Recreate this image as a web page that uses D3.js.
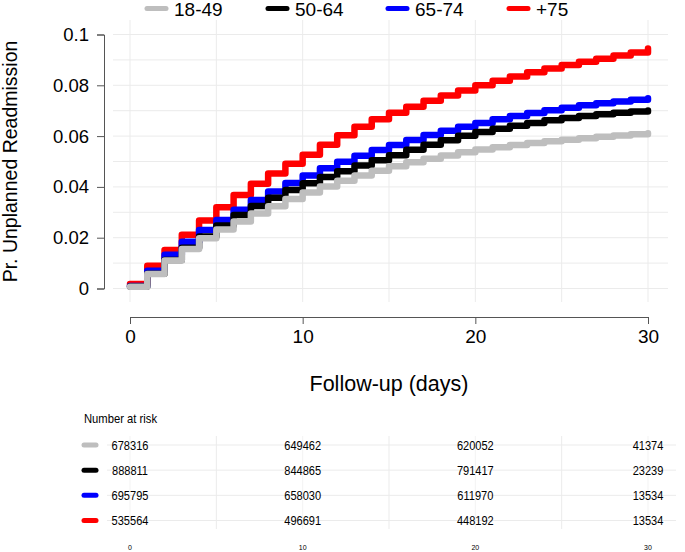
<!DOCTYPE html>
<meta charset="utf-8">
<script src="https://d3js.org/d3.v7.min.js"></script>
<style>
  body { margin: 0; background: #fff; }
  text { font-family: "Liberation Sans", Arial, sans-serif; fill: #000; }
</style>
<body>
<script>
// groups and colours
var groups = ["18-49", "50-64", "65-74", "+75"];
var colors = ["#bebebe", "#000000", "#0000ff", "#ff0000"];

// cumulative probability of unplanned readmission, one value per day 0..30
var days = d3.range(0, 31);
var age18_49 = [0.0007, 0.0057, 0.0110, 0.0156, 0.0198, 0.0232, 0.0264, 0.0295, 0.0324, 0.0352,
                0.0378, 0.0402, 0.0424, 0.0445, 0.0464, 0.0481, 0.0497, 0.0511, 0.0524, 0.0536,
                0.0547, 0.0556, 0.0565, 0.0573, 0.0580, 0.0586, 0.0592, 0.0597, 0.0602, 0.0607, 0.0611];
var age50_64 = [0.0008, 0.0058, 0.0112, 0.0160, 0.0205, 0.0248, 0.0289, 0.0325, 0.0357, 0.0388,
                0.0414, 0.0439, 0.0462, 0.0484, 0.0505, 0.0525, 0.0546, 0.0566, 0.0584, 0.0601,
                0.0616, 0.0629, 0.0641, 0.0652, 0.0662, 0.0671, 0.0679, 0.0686, 0.0692, 0.0697, 0.0701];
var age65_74 = [0.0010, 0.0070, 0.0133, 0.0184, 0.0230, 0.0270, 0.0310, 0.0348, 0.0382, 0.0415,
                0.0445, 0.0473, 0.0499, 0.0523, 0.0545, 0.0565, 0.0585, 0.0604, 0.0621, 0.0637,
                0.0652, 0.0666, 0.0679, 0.0691, 0.0702, 0.0712, 0.0721, 0.0729, 0.0736, 0.0743, 0.0749];
var age75 = [0.0018, 0.0090, 0.0152, 0.0212, 0.0268, 0.0320, 0.0368, 0.0412, 0.0453, 0.0491,
             0.0527, 0.0566, 0.0603, 0.0637, 0.0666, 0.0692, 0.0716, 0.0739, 0.0760, 0.0780,
             0.0800, 0.0818, 0.0835, 0.0851, 0.0866, 0.0880, 0.0893, 0.0905, 0.0917, 0.0929, 0.0945];
var series = [age18_49, age50_64, age65_74, age75];

// number at risk table
var riskDays = [0, 10, 20, 30];
var risk18_49 = [678316, 649462, 620052, 41374];
var risk50_64 = [888811, 844865, 791417, 23239];
var risk65_74 = [695795, 658030, 611970, 13534];
var risk75 = [535564, 496691, 448192, 13534];
var riskRows = [risk18_49, risk50_64, risk65_74, risk75];

var xTicks = [0, 10, 20, 30];
var yTicks = [0, 0.02, 0.04, 0.06, 0.08, 0.1];

var W = 685, H = 552;
var svg = d3.select("body").append("svg")
  .attr("width", W).attr("height", H);

var x = d3.scaleLinear().domain([0, 30]).range([130, 648]);
var y = d3.scaleLinear().domain([0, 0.1]).range([288.5, 34.5]);

// panel grid
var grid = svg.append("g").attr("stroke", "#ebebeb").attr("stroke-width", 1);
grid.selectAll("line.v").data(d3.range(0, 31, 5)).enter().append("line")
  .attr("x1", d => x(d)).attr("x2", d => x(d))
  .attr("y1", 20).attr("y2", 302);
grid.selectAll("line.h").data(d3.range(0, 0.1001, 0.01)).enter().append("line")
  .attr("x1", 113).attr("x2", 668)
  .attr("y1", d => y(d)).attr("y2", d => y(d));

// y axis
var yAxis = svg.append("g")
  .attr("transform", "translate(104,0)")
  .call(d3.axisLeft(y).tickValues(yTicks).tickSize(7).tickPadding(8)
    .tickFormat(d => d === 0 ? "0" : d3.format("~g")(d)));
yAxis.select(".domain").attr("stroke", "#555");
yAxis.selectAll(".tick line").attr("stroke", "#555");
yAxis.selectAll("text").attr("font-size", "18.5px").attr("fill", "#000")
  .attr("font-family", "Liberation Sans, Arial, sans-serif");

svg.append("text")
  .attr("transform", "translate(16.5," + y(0.05) + ") rotate(-90)")
  .attr("text-anchor", "middle")
  .attr("font-size", "19.5px")
  .text("Pr. Unplanned Readmission");

// x axis
var xAxis = svg.append("g")
  .attr("transform", "translate(0,317)")
  .call(d3.axisBottom(x).tickValues(xTicks).tickSize(7).tickPadding(6));
xAxis.select(".domain").attr("stroke", "#555");
xAxis.selectAll(".tick line").attr("stroke", "#555");
xAxis.selectAll("text").attr("font-size", "19px").attr("fill", "#000")
  .attr("font-family", "Liberation Sans, Arial, sans-serif");

svg.append("text")
  .attr("x", x(15)).attr("y", 391)
  .attr("text-anchor", "middle")
  .attr("font-size", "21.5px")
  .text("Follow-up (days)");

// curves, oldest group first so 18-49 ends on top
var line = d3.line()
  .x((d, i) => x(days[i]))
  .y(d => y(d))
  .curve(d3.curveStepAfter);

var order = [3, 2, 1, 0];
svg.append("g").selectAll("path").data(order).enter().append("path")
  .attr("d", k => line(series[k]))
  .attr("fill", "none")
  .attr("stroke", k => colors[k])
  .attr("stroke-width", 6.5)
  .attr("stroke-linecap", "round")
  .attr("stroke-linejoin", "round");

// top legend
var legX = [147, 268, 388, 509];
var leg = svg.append("g").selectAll("g").data(groups).enter().append("g");
leg.append("line")
  .attr("x1", (d, i) => legX[i]).attr("x2", (d, i) => legX[i] + 19)
  .attr("y1", 8.5).attr("y2", 8.5)
  .attr("stroke", (d, i) => colors[i])
  .attr("stroke-width", 5)
  .attr("stroke-linecap", "round");
leg.append("text")
  .attr("x", (d, i) => legX[i] + 27).attr("y", 16)
  .attr("font-size", "19px")
  .text(d => d);

// risk table (text squeezed horizontally, like the narrow font of the original)
var risk = svg.append("g");
risk.append("text")
  .attr("transform", "translate(84,422.5) scale(0.9,1)")
  .attr("font-size", "12.5px")
  .text("Number at risk");

var rowY = d3.scalePoint().domain(d3.range(4)).range([445, 520.5]);

var tg = risk.append("g").attr("stroke-width", 1);
tg.selectAll("line.v").data(d3.range(0, 31, 5)).enter().append("line")
  .attr("stroke", d => d % 10 === 0 ? "#f3f3f3" : "#ebebeb")
  .attr("x1", d => x(d)).attr("x2", d => x(d))
  .attr("y1", 436).attr("y2", 529);
tg.selectAll("line.h").data(d3.range(4)).enter().append("line")
  .attr("stroke", "#ebebeb")
  .attr("x1", 107).attr("x2", 676)
  .attr("y1", d => rowY(d)).attr("y2", d => rowY(d));

var rows = risk.append("g").selectAll("g").data(riskRows).enter().append("g")
  .attr("transform", (d, i) => "translate(0," + rowY(i) + ")");
rows.append("line")
  .attr("x1", 84).attr("x2", 96)
  .attr("stroke", (d, i) => colors[i])
  .attr("stroke-width", 5)
  .attr("stroke-linecap", "round");
rows.selectAll("text").data(d => d).enter().append("text")
  .attr("transform", (d, j) => "translate(" + x(riskDays[j]) + ",4.6) scale(0.85,1)")
  .attr("text-anchor", "middle")
  .attr("font-size", "13px")
  .text(d => d);

risk.append("g").selectAll("text").data(xTicks).enter().append("text")
  .attr("x", d => x(d)).attr("y", 549.5)
  .attr("text-anchor", "middle")
  .attr("font-size", "7px")
  .text(d => d);
</script>
</body>
